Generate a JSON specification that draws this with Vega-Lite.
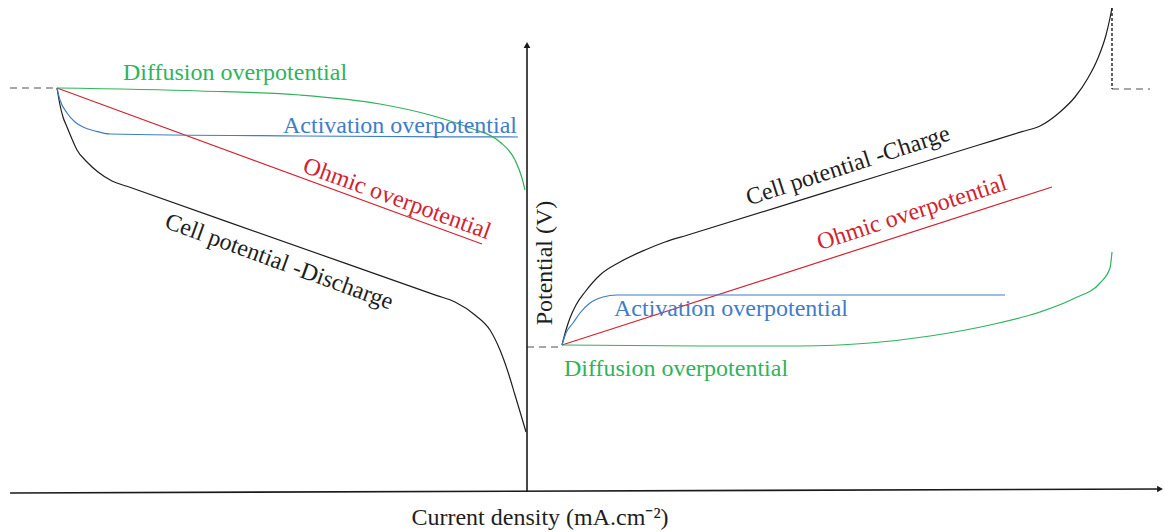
{
  "$schema": "https://vega.github.io/schema/vega-lite/v6.json",
  "width": 1164,
  "height": 532,
  "autosize": {"type": "fit", "contains": "padding"},
  "padding": 0,
  "background": "white",
  "config": {"view": {"stroke": null}, "font": "Liberation Serif"},
  "datasets": {
    "curves": [
      {"curve": "discharge-cell", "kind": "cell", "i": 0, "x": -470, "y": 404},
      {"curve": "discharge-cell", "kind": "cell", "i": 1, "x": -467, "y": 387},
      {"curve": "discharge-cell", "kind": "cell", "i": 2, "x": -464, "y": 375},
      {"curve": "discharge-cell", "kind": "cell", "i": 3, "x": -460, "y": 365},
      {"curve": "discharge-cell", "kind": "cell", "i": 4, "x": -455, "y": 353},
      {"curve": "discharge-cell", "kind": "cell", "i": 5, "x": -450, "y": 342},
      {"curve": "discharge-cell", "kind": "cell", "i": 6, "x": -440, "y": 330},
      {"curve": "discharge-cell", "kind": "cell", "i": 7, "x": -429, "y": 320},
      {"curve": "discharge-cell", "kind": "cell", "i": 8, "x": -415, "y": 311},
      {"curve": "discharge-cell", "kind": "cell", "i": 9, "x": -400, "y": 305.7},
      {"curve": "discharge-cell", "kind": "cell", "i": 10, "x": -300, "y": 270.4},
      {"curve": "discharge-cell", "kind": "cell", "i": 11, "x": -180, "y": 228.1},
      {"curve": "discharge-cell", "kind": "cell", "i": 12, "x": -90, "y": 196.4},
      {"curve": "discharge-cell", "kind": "cell", "i": 13, "x": -72, "y": 190},
      {"curve": "discharge-cell", "kind": "cell", "i": 14, "x": -52, "y": 177},
      {"curve": "discharge-cell", "kind": "cell", "i": 15, "x": -37, "y": 162},
      {"curve": "discharge-cell", "kind": "cell", "i": 16, "x": -27, "y": 142},
      {"curve": "discharge-cell", "kind": "cell", "i": 17, "x": -19, "y": 120},
      {"curve": "discharge-cell", "kind": "cell", "i": 18, "x": -12, "y": 97},
      {"curve": "discharge-cell", "kind": "cell", "i": 19, "x": -6, "y": 77},
      {"curve": "discharge-cell", "kind": "cell", "i": 20, "x": -1, "y": 60},

      {"curve": "discharge-ohmic", "kind": "ohmic", "i": 0, "x": -470, "y": 404},
      {"curve": "discharge-ohmic", "kind": "ohmic", "i": 1, "x": -45, "y": 248},

      {"curve": "discharge-activation", "kind": "activation", "i": 0, "x": -470, "y": 404},
      {"curve": "discharge-activation", "kind": "activation", "i": 1, "x": -467, "y": 392},
      {"curve": "discharge-activation", "kind": "activation", "i": 2, "x": -460, "y": 379},
      {"curve": "discharge-activation", "kind": "activation", "i": 3, "x": -452, "y": 370},
      {"curve": "discharge-activation", "kind": "activation", "i": 4, "x": -444, "y": 365},
      {"curve": "discharge-activation", "kind": "activation", "i": 5, "x": -432, "y": 361},
      {"curve": "discharge-activation", "kind": "activation", "i": 6, "x": -417, "y": 358},
      {"curve": "discharge-activation", "kind": "activation", "i": 7, "x": -227, "y": 356},
      {"curve": "discharge-activation", "kind": "activation", "i": 8, "x": -9, "y": 355},

      {"curve": "discharge-diffusion", "kind": "diffusion", "i": 0, "x": -470, "y": 404},
      {"curve": "discharge-diffusion", "kind": "diffusion", "i": 1, "x": -327, "y": 401},
      {"curve": "discharge-diffusion", "kind": "diffusion", "i": 2, "x": -227, "y": 397},
      {"curve": "discharge-diffusion", "kind": "diffusion", "i": 3, "x": -147, "y": 388},
      {"curve": "discharge-diffusion", "kind": "diffusion", "i": 4, "x": -97, "y": 377},
      {"curve": "discharge-diffusion", "kind": "diffusion", "i": 5, "x": -57, "y": 364},
      {"curve": "discharge-diffusion", "kind": "diffusion", "i": 6, "x": -27, "y": 350},
      {"curve": "discharge-diffusion", "kind": "diffusion", "i": 7, "x": -12, "y": 332},
      {"curve": "discharge-diffusion", "kind": "diffusion", "i": 8, "x": -5, "y": 314},
      {"curve": "discharge-diffusion", "kind": "diffusion", "i": 9, "x": -2, "y": 302},

      {"curve": "charge-cell", "kind": "cell", "i": 0, "x": 35, "y": 147},
      {"curve": "charge-cell", "kind": "cell", "i": 1, "x": 39, "y": 162},
      {"curve": "charge-cell", "kind": "cell", "i": 2, "x": 43, "y": 174},
      {"curve": "charge-cell", "kind": "cell", "i": 3, "x": 49, "y": 187},
      {"curve": "charge-cell", "kind": "cell", "i": 4, "x": 58, "y": 200},
      {"curve": "charge-cell", "kind": "cell", "i": 5, "x": 73, "y": 217},
      {"curve": "charge-cell", "kind": "cell", "i": 6, "x": 93, "y": 230},
      {"curve": "charge-cell", "kind": "cell", "i": 7, "x": 118, "y": 242},
      {"curve": "charge-cell", "kind": "cell", "i": 8, "x": 138, "y": 250},
      {"curve": "charge-cell", "kind": "cell", "i": 9, "x": 160, "y": 256.8},
      {"curve": "charge-cell", "kind": "cell", "i": 10, "x": 300, "y": 300.1},
      {"curve": "charge-cell", "kind": "cell", "i": 11, "x": 450, "y": 346.5},
      {"curve": "charge-cell", "kind": "cell", "i": 12, "x": 495, "y": 360.4},
      {"curve": "charge-cell", "kind": "cell", "i": 13, "x": 513, "y": 366},
      {"curve": "charge-cell", "kind": "cell", "i": 14, "x": 533, "y": 380},
      {"curve": "charge-cell", "kind": "cell", "i": 15, "x": 548, "y": 395},
      {"curve": "charge-cell", "kind": "cell", "i": 16, "x": 561, "y": 414},
      {"curve": "charge-cell", "kind": "cell", "i": 17, "x": 571, "y": 434},
      {"curve": "charge-cell", "kind": "cell", "i": 18, "x": 579, "y": 457},
      {"curve": "charge-cell", "kind": "cell", "i": 19, "x": 583, "y": 474},
      {"curve": "charge-cell", "kind": "cell", "i": 20, "x": 585, "y": 484},

      {"curve": "charge-ohmic", "kind": "ohmic", "i": 0, "x": 35, "y": 147},
      {"curve": "charge-ohmic", "kind": "ohmic", "i": 1, "x": 525, "y": 305},

      {"curve": "charge-activation", "kind": "activation", "i": 0, "x": 35, "y": 147},
      {"curve": "charge-activation", "kind": "activation", "i": 1, "x": 39, "y": 159},
      {"curve": "charge-activation", "kind": "activation", "i": 2, "x": 46, "y": 169},
      {"curve": "charge-activation", "kind": "activation", "i": 3, "x": 53, "y": 179},
      {"curve": "charge-activation", "kind": "activation", "i": 4, "x": 63, "y": 189},
      {"curve": "charge-activation", "kind": "activation", "i": 5, "x": 76, "y": 195},
      {"curve": "charge-activation", "kind": "activation", "i": 6, "x": 90, "y": 197},
      {"curve": "charge-activation", "kind": "activation", "i": 7, "x": 478, "y": 197},

      {"curve": "charge-diffusion", "kind": "diffusion", "i": 0, "x": 35, "y": 147},
      {"curve": "charge-diffusion", "kind": "diffusion", "i": 1, "x": 173, "y": 146},
      {"curve": "charge-diffusion", "kind": "diffusion", "i": 2, "x": 273, "y": 146},
      {"curve": "charge-diffusion", "kind": "diffusion", "i": 3, "x": 343, "y": 149},
      {"curve": "charge-diffusion", "kind": "diffusion", "i": 4, "x": 403, "y": 156},
      {"curve": "charge-diffusion", "kind": "diffusion", "i": 5, "x": 463, "y": 167},
      {"curve": "charge-diffusion", "kind": "diffusion", "i": 6, "x": 513, "y": 180},
      {"curve": "charge-diffusion", "kind": "diffusion", "i": 7, "x": 548, "y": 194},
      {"curve": "charge-diffusion", "kind": "diffusion", "i": 8, "x": 573, "y": 209},
      {"curve": "charge-diffusion", "kind": "diffusion", "i": 9, "x": 583, "y": 224},
      {"curve": "charge-diffusion", "kind": "diffusion", "i": 10, "x": 585, "y": 240},

      {"curve": "ocv-left", "kind": "guide", "i": 0, "x": -517, "y": 404},
      {"curve": "ocv-left", "kind": "guide", "i": 1, "x": -470, "y": 404},
      {"curve": "ocv-center", "kind": "guide", "i": 0, "x": 0, "y": 145},
      {"curve": "ocv-center", "kind": "guide", "i": 1, "x": 35, "y": 145},
      {"curve": "ocv-right", "kind": "guide", "i": 0, "x": 585, "y": 403},
      {"curve": "ocv-right", "kind": "guide", "i": 1, "x": 623, "y": 403},
      {"curve": "cutoff", "kind": "limit", "i": 0, "x": 585, "y": 484},
      {"curve": "cutoff", "kind": "limit", "i": 1, "x": 585, "y": 403}
    ],
    "axes": [
      {"axis": "potential", "x": 0, "y": 0, "x2": 0, "y2": 446},
      {"axis": "current", "x": -517, "y": -1, "x2": 633, "y2": 3}
    ],
    "arrows": [
      {"dir": "up", "x": 0, "y": 447},
      {"dir": "right", "x": 633, "y": 3}
    ],
    "labels": [
      {"text": "Diffusion overpotential", "kind": "diffusion", "rot": "flat", "x": -292, "y": 419},
      {"text": "Activation overpotential", "kind": "activation", "rot": "flat", "x": -127, "y": 366},
      {"text": "Ohmic overpotential", "kind": "ohmic", "rot": "down", "x": -130, "y": 293},
      {"text": "Cell potential -Discharge", "kind": "cell", "rot": "down", "x": -248, "y": 230},
      {"text": "Cell potential -Charge", "kind": "cell", "rot": "up", "x": 321, "y": 326},
      {"text": "Ohmic overpotential", "kind": "ohmic", "rot": "up", "x": 385, "y": 279},
      {"text": "Activation overpotential", "kind": "activation", "rot": "flat", "x": 204, "y": 183},
      {"text": "Diffusion overpotential", "kind": "diffusion", "rot": "flat", "x": 149, "y": 123},
      {"text": "Current density (mA.cm⁻²)", "kind": "axis", "rot": "flat", "x": 13, "y": -26},
      {"text": "Potential (V)", "kind": "axis", "rot": "vertical", "x": 18, "y": 229}
    ]
  },
  "encoding": {
    "x": {"type": "quantitative", "scale": {"domain": [-527, 637], "nice": false, "zero": false}, "axis": null},
    "y": {"type": "quantitative", "scale": {"domain": [-40, 492], "nice": false, "zero": false}, "axis": null}
  },
  "layer": [
    {
      "data": {"name": "curves"},
      "transform": [{"filter": "datum.kind !== 'guide' && datum.kind !== 'limit'"}],
      "mark": {"type": "line", "strokeWidth": 1.2, "clip": false, "interpolate": "monotone"},
      "encoding": {
        "x": {"field": "x", "type": "quantitative"},
        "y": {"field": "y", "type": "quantitative"},
        "detail": {"field": "curve"},
        "order": {"field": "i", "type": "quantitative"},
        "color": {
          "field": "kind", "type": "nominal", "legend": null,
          "scale": {"domain": ["cell", "ohmic", "activation", "diffusion"], "range": ["#1e1e1e", "#d2232f", "#3f7dc8", "#2fb35c"]}
        }
      }
    },
    {
      "data": {"name": "curves"},
      "transform": [{"filter": "datum.kind === 'guide'"}],
      "mark": {"type": "line", "strokeWidth": 1.4, "color": "#8a8a8a", "strokeDash": [7, 5]},
      "encoding": {
        "x": {"field": "x", "type": "quantitative"},
        "y": {"field": "y", "type": "quantitative"},
        "detail": {"field": "curve"},
        "order": {"field": "i", "type": "quantitative"}
      }
    },
    {
      "data": {"name": "curves"},
      "transform": [{"filter": "datum.kind === 'limit'"}],
      "mark": {"type": "line", "strokeWidth": 1.4, "color": "#1e1e1e", "strokeDash": [3, 2]},
      "encoding": {
        "x": {"field": "x", "type": "quantitative"},
        "y": {"field": "y", "type": "quantitative"},
        "order": {"field": "i", "type": "quantitative"}
      }
    },
    {
      "data": {"name": "axes"},
      "mark": {"type": "rule", "strokeWidth": 1.6, "color": "#1a1a1a"},
      "encoding": {
        "x": {"field": "x", "type": "quantitative"},
        "y": {"field": "y", "type": "quantitative"},
        "x2": {"field": "x2"},
        "y2": {"field": "y2"}
      }
    },
    {
      "data": {"name": "arrows"},
      "mark": {"type": "point", "filled": true, "size": 45, "opacity": 1, "color": "#1a1a1a"},
      "encoding": {
        "x": {"field": "x", "type": "quantitative"},
        "y": {"field": "y", "type": "quantitative"},
        "shape": {"field": "dir", "type": "nominal", "legend": null,
          "scale": {"domain": ["up", "right"], "range": ["triangle-up", "triangle-right"]}}
      }
    },
    {
      "data": {"name": "labels"},
      "transform": [{"filter": "datum.rot === 'flat'"}],
      "mark": {"type": "text", "font": "Liberation Serif", "fontSize": 24, "align": "center", "baseline": "middle"},
      "encoding": {
        "x": {"field": "x", "type": "quantitative"},
        "y": {"field": "y", "type": "quantitative"},
        "text": {"field": "text"},
        "color": {"field": "kind", "type": "nominal", "legend": null,
          "scale": {"domain": ["cell", "ohmic", "activation", "diffusion", "axis"], "range": ["#2a2a2a", "#c4202f", "#5c78b6", "#46aa6c", "#3a3a3a"]}}
      }
    },
    {
      "data": {"name": "labels"},
      "transform": [{"filter": "datum.rot === 'down'"}],
      "mark": {"type": "text", "font": "Liberation Serif", "fontSize": 24, "align": "center", "baseline": "middle", "angle": 20},
      "encoding": {
        "x": {"field": "x", "type": "quantitative"},
        "y": {"field": "y", "type": "quantitative"},
        "text": {"field": "text"},
        "color": {"field": "kind", "type": "nominal", "legend": null}
      }
    },
    {
      "data": {"name": "labels"},
      "transform": [{"filter": "datum.rot === 'up'"}],
      "mark": {"type": "text", "font": "Liberation Serif", "fontSize": 24, "align": "center", "baseline": "middle", "angle": 342},
      "encoding": {
        "x": {"field": "x", "type": "quantitative"},
        "y": {"field": "y", "type": "quantitative"},
        "text": {"field": "text"},
        "color": {"field": "kind", "type": "nominal", "legend": null}
      }
    },
    {
      "data": {"name": "labels"},
      "transform": [{"filter": "datum.rot === 'vertical'"}],
      "mark": {"type": "text", "font": "Liberation Serif", "fontSize": 24, "align": "center", "baseline": "middle", "angle": 270},
      "encoding": {
        "x": {"field": "x", "type": "quantitative"},
        "y": {"field": "y", "type": "quantitative"},
        "text": {"field": "text"},
        "color": {"field": "kind", "type": "nominal", "legend": null}
      }
    }
  ]
}
